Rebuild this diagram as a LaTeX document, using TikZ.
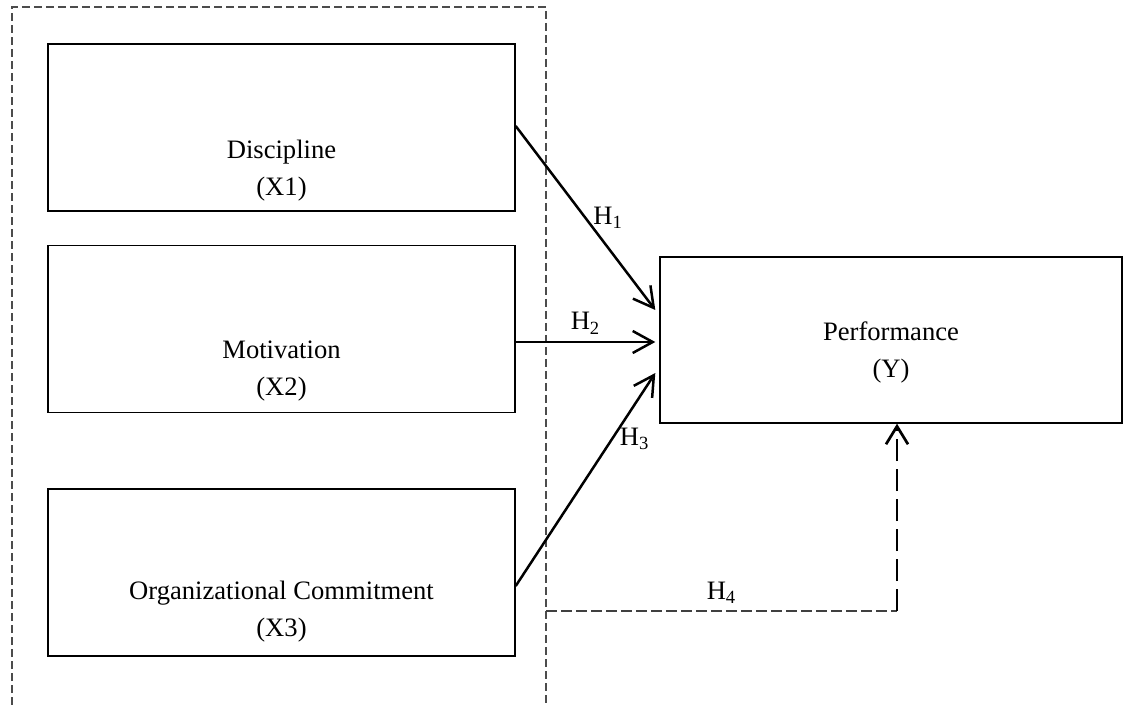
\documentclass[tikz,border=0pt]{standalone}
\usepackage{fontspec}
\setmainfont{Liberation Serif}
\usetikzlibrary{arrows.meta}

\begin{document}
\begin{tikzpicture}[x=0.5pt, y=-0.5pt,
  font=\fontsize{13.3}{18.5}\selectfont,
  var/.style={draw, line width=0.7pt, minimum width=233.5pt, minimum height=83.5pt},
  hyp/.style={line width=1.25pt, -{Straight Barb[length=10pt, width=11pt]}},
  group/.style={draw=black!70, line width=0.6pt, dash pattern=on 4pt off 2pt},
  modline/.style={draw=black!75, line width=0.85pt, dash pattern=on 5.5pt off 2pt},
  modrise/.style={line width=1.35pt, dash pattern=on 11pt off 4pt, -{Straight Barb[length=9pt, width=11pt]}}]
  \useasboundingbox (0,0) rectangle (1123,705);

  \draw[group] (12,705) -- (12,7) -- (546,7) -- (546,705);

  \node[var, label={[align=center, yshift=-21.5pt]center:Discipline\\(X1)}] (X1) at (281.5,127.5) {};
  \node[var, label={[align=center, yshift=-21pt]center:Motivation\\(X2)}] (X2) at (281.5,329) {};
  \node[var, label={[align=center, yshift=-19.5pt]center:Organizational Commitment\\(X3)}] (X3) at (281.5,572.5) {};
  \node[var, minimum width=231pt, minimum height=83pt, label={[align=center, yshift=-6pt]center:Performance\\(Y)}] (Y) at (891,340) {};

  \draw[hyp] ([yshift=0.75pt]X1.east) -- node[pos=0.5, right]{H\textsubscript{1}} ([xshift=-2pt, yshift=15pt]Y.west);
  \draw[hyp] ([yshift=-6.5pt]X2.east) -- node[above]{H\textsubscript{2}} ([xshift=-2pt, yshift=-1pt]Y.west);
  \draw[hyp] ([yshift=-6.75pt]X3.east) -- node[pos=0.69, right]{H\textsubscript{3}} ([xshift=-2pt, yshift=-16.5pt]Y.west);

  \coordinate (h4a) at (546,611);
  \coordinate (h4b) at (897,611);
  \draw[modline] (h4a) -- node[above]{H\textsubscript{4}} (h4b);
  \draw[modrise] (h4b) -- (h4b |- Y.south);
\end{tikzpicture}
\end{document}
